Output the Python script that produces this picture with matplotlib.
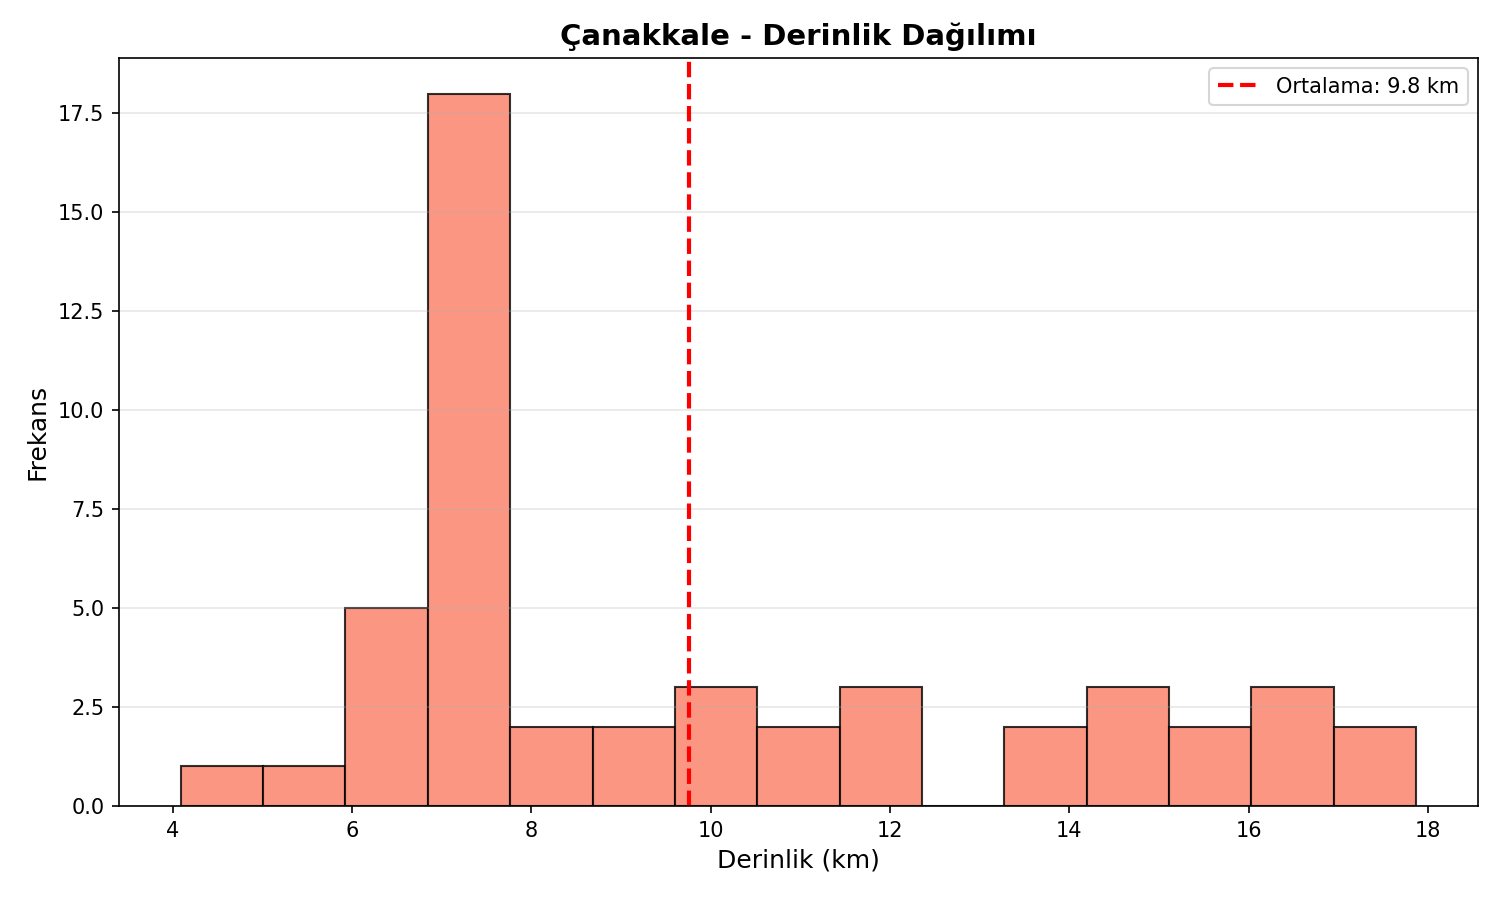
import numpy as np
import matplotlib.pyplot as plt

# histogram
bin_start = 4.09
bin_end = 17.87
counts = [1, 1, 5, 18, 2, 2, 3, 2, 3, 0, 2, 3, 2, 3, 2]
mean_depth = 9.76

edges = np.linspace(bin_start, bin_end, len(counts) + 1)
centers = (edges[:-1] + edges[1:]) / 2

fig, ax = plt.subplots(figsize=(10, 6), dpi=150)
ax.hist(centers, bins=edges, weights=counts, color='#F97C63', alpha=0.8,
        edgecolor='black')
ax.axvline(mean_depth, color='red', linestyle='--', linewidth=2,
           label=f'Ortalama: {mean_depth:.1f} km')

ax.set_title('Çanakkale - Derinlik Dağılımı', fontsize=14, fontweight='bold')
ax.set_xlabel('Derinlik (km)', fontsize=12)
ax.set_ylabel('Frekans', fontsize=12)
ax.grid(True, axis='y', alpha=0.3)
ax.legend()

fig.subplots_adjust(left=0.0793, right=0.9853, top=0.9356, bottom=0.1044)
plt.savefig('out.png', dpi=150)
